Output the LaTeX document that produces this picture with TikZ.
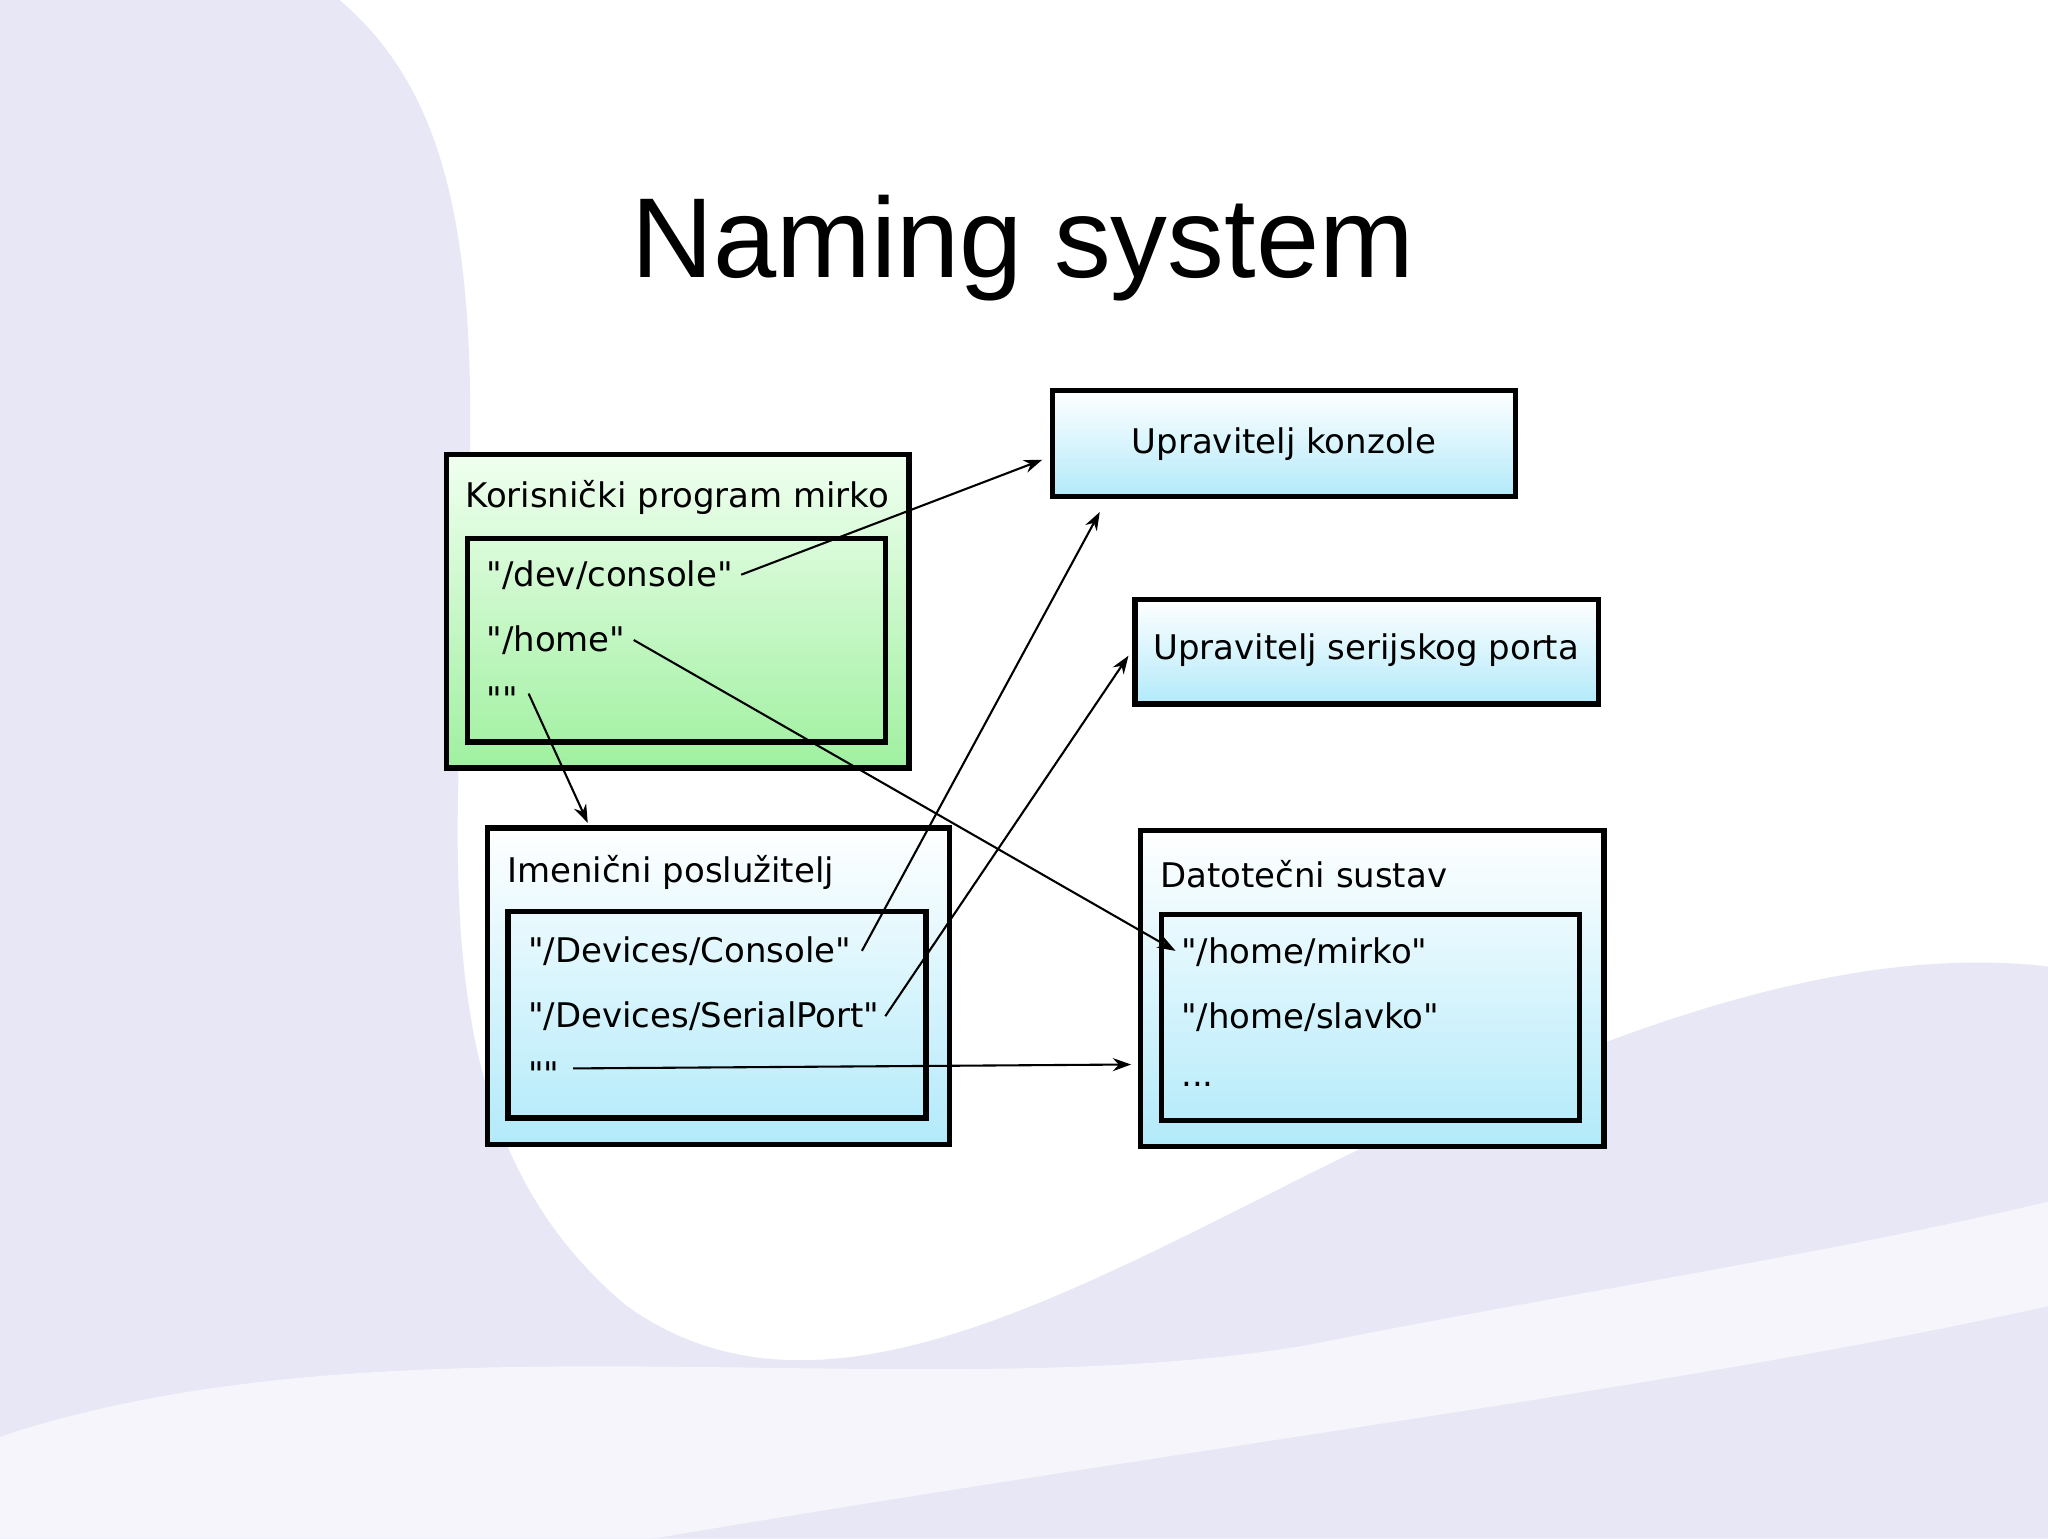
\documentclass[tikz,border=0pt]{standalone}
\usepackage{fontspec}
\usetikzlibrary{arrows.meta}
\setmainfont{DejaVu Sans}[Ligatures=TeXOff]
\newfontfamily\titlefont{Liberation Sans}
\definecolor{lav}{RGB}{231,231,246}
\definecolor{cyb}{RGB}{178,234,250}
\definecolor{grb}{RGB}{160,240,160}
\begin{document}
\begin{tikzpicture}[x=0.5pt,y=-0.5pt,
  bx/.style={draw=black,line width=2pt},
  bluebox/.style={bx,top color=white,bottom color=cyb},
  lbl/.style={anchor=west,font=\fontsize{13}{15}\selectfont,inner sep=0pt},
  arr/.style={-{Stealth[length=7pt,width=5pt]},line width=0.8pt}]
\useasboundingbox (0,0) rectangle (1568,1178);
\fill[white] (0,0) rectangle (1568,1178);
\fill[lav] (0,0) -- (260,0) .. controls (330,60) and (360,150) .. (360,320)
  .. controls (360,600) and (300,850) .. (480,1000) .. controls (620,1100) and (800,1000) .. (1000,900)
  .. controls (1200,800) and (1400,720) .. (1568,740) -- (1568,1178) -- (0,1178) -- cycle;
\fill[white!60!lav] (0,1100) .. controls (300,1000) and (700,1080) .. (1000,1030) .. controls (1200,990) and (1400,960) .. (1568,920) -- (1568,1000) .. controls (1300,1060) and (900,1110) .. (500,1178) -- (0,1178) -- cycle;
\node[font=\titlefont\fontsize{43.5}{50}\selectfont] (title) at (783,190) {Naming system};
% boxes
\draw[bx,top color=green!6,bottom color=grb] (342,348) rectangle (696,588);
\draw[bx] (358,412) rectangle (678,568);
\draw[bluebox] (806,299) rectangle (1160,380);
\draw[bluebox] (869,459) rectangle (1224,539);
\draw[bluebox] (373,634) rectangle (727,876);
\draw[bx] (389,698) rectangle (709,856);
\draw[bluebox] (873,636) rectangle (1228,878);
\draw[bx] (889,700) rectangle (1209,858);
\node[font=\fontsize{13}{15}\selectfont] (uk) at (983,340) {Upravitelj konzole};
\node[font=\fontsize{13}{15}\selectfont] (us) at (1046,498) {Upravitelj serijskog porta};
\node[lbl] (kp) at (356,381) {Korisnički program mirko};
\node[lbl] (dc) at (372,440) {"/dev/console"};
\node[lbl] (hm) at (372,490) {"/home"};
\node[lbl] (e1) at (372,535) {""};
\node[lbl] (ip) at (388,668) {Imenični poslužitelj};
\node[lbl] (dvc) at (404,728) {"/Devices/Console"};
\node[lbl] (dvs) at (404,778) {"/Devices/SerialPort"};
\node[lbl] (e2) at (404,822) {""};
\node[lbl] (ds) at (888,669) {Datotečni sustav};
\node[lbl] (hmm) at (904,729) {"/home/mirko"};
\node[lbl] (hms) at (904,779) {"/home/slavko"};
\node[lbl] (dots) at (904,830) {...};
\coordinate (a1) at (798,352);
\coordinate (a2) at (900,728);
\coordinate (a3) at (450,630);
\coordinate (a4) at (842,392);
\coordinate (a5) at (864,502);
\coordinate (a6) at (866,815);
\draw[arr] ([xshift=3pt]dc.east) -- (a1);
\draw[arr] ([xshift=3pt]hm.east) -- (a2);
\draw[arr] ([xshift=4pt,yshift=2pt]e1.east) -- (a3);
\draw[arr] ([xshift=4pt]dvc.east) -- (a4);
\draw[arr] ([xshift=2pt]dvs.east) -- (a5);
\draw[arr] ([xshift=5pt,yshift=2pt]e2.east) -- (a6);
\end{tikzpicture}
\end{document}
